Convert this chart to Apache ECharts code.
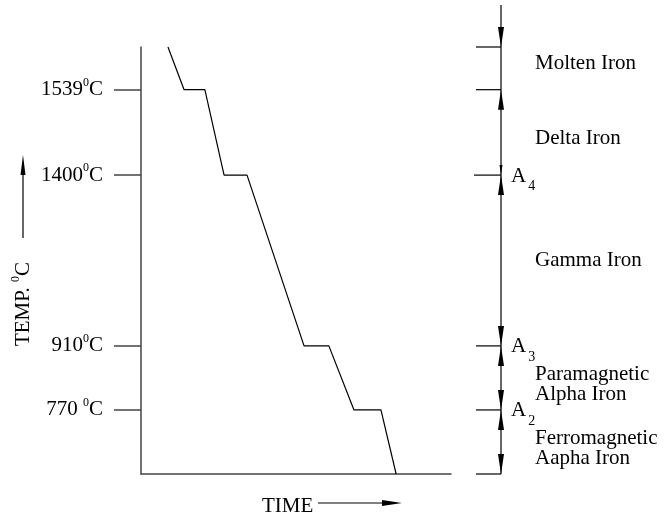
<!DOCTYPE html>
<html>
<head>
<meta charset="utf-8">
<script src="https://cdn.jsdelivr.net/npm/echarts@6/dist/echarts.min.js"></script>
<style>html,body{margin:0;padding:0;background:#fff}#c{width:666px;height:518px}</style>
</head>
<body>
<div id="c"></div>
<script>
// Cooling curve (schematic height levels; 0 = bottom of axis, 20 = top)
const timeVals  = [8.7, 13.9, 20.6, 26.8, 34.2, 52.6, 60.6, 68.7, 77.4, 82.3];
const levelVals = [20, 18, 18, 14, 14, 6, 6, 3, 3, 0];
// temperature tick labels on the schematic axis
const tickLevels = [3, 6, 14, 18];
const tickTemps  = ['770 ', '910', '1400', '1539'];
// phase regions (bounds on the schematic axis)
const phaseBounds = [0, 3, 6, 14, 18, 20];
const phaseNames  = ['Ferromagnetic\nAapha Iron', 'Paramagnetic\nAlpha Iron', 'Gamma Iron', 'Delta Iron', 'Molten Iron'];
// critical points
const critLevels = [3, 6, 14];
const critSubs   = ['2', '3', '4'];

// layout (pixels): vertical nudge of each phase label from the middle of its band
const LABEL_NUDGE = [7, 7, 0, 6, -5];
const FONT = 'Liberation Serif';
const chart = echarts.init(document.getElementById('c'));

const curve = timeVals.map((t, i) => [t, levelVals[i]]);
const regions = phaseNames.map((n, i) => [0, phaseBounds[i], phaseBounds[i + 1]]);

function renderRegion(params, api) {
  const i = params.dataIndex;
  const lo = api.value(1), hi = api.value(2);
  const yLo = api.coord([0, lo])[1];
  const yHi = api.coord([0, hi])[1];
  const cs = params.coordSys;
  const xr = cs.x + cs.width + 50;
  const stroke = { stroke: '#000', lineWidth: 1.2 };
  const ch = [];
  ch.push({ type: 'line', shape: { x1: xr, y1: yHi, x2: xr, y2: yLo }, style: stroke });
  const tickLen = lo === 14 ? 27 : 25;
  ch.push({ type: 'line', shape: { x1: xr - tickLen, y1: yLo, x2: xr, y2: yLo }, style: stroke });
  const isTop = i === phaseNames.length - 1;
  if (isTop) {
    ch.push({ type: 'line', shape: { x1: xr - 25, y1: yHi, x2: xr, y2: yHi }, style: stroke });
    ch.push({ type: 'line', shape: { x1: xr, y1: cs.y - 42, x2: xr, y2: yHi }, style: stroke });
    ch.push({ type: 'polygon', shape: { points: [[xr, yHi], [xr - 3, yHi - 20], [xr + 3, yHi - 20]] }, style: { fill: '#000' } });
  } else {
    ch.push({ type: 'polygon', shape: { points: [[xr, yHi], [xr - 3, yHi + 20], [xr + 3, yHi + 20]] }, style: { fill: '#000' } });
    const small = (i === phaseNames.length - 2);
    const L = small ? 10 : 20, W = small ? 1.5 : 3;
    ch.push({ type: 'polygon', shape: { points: [[xr, yLo], [xr - W, yLo - L], [xr + W, yLo - L]] }, style: { fill: '#000' } });
  }
  ch.push({
    type: 'text',
    style: {
      text: phaseNames[i], x: xr + 34, y: (yHi + yLo) / 2 + LABEL_NUDGE[i],
      verticalAlign: 'middle', align: 'left',
      fontFamily: FONT, fontSize: 21, lineHeight: 20, fill: '#000'
    }
  });
  const ci = critLevels.indexOf(lo);
  if (ci >= 0) {
    ch.push({
      type: 'text',
      style: {
        text: '{a|A}{b|' + critSubs[ci] + '}', x: xr + 10, y: yLo + 1,
        verticalAlign: 'middle', align: 'left',
        rich: {
          a: { fontFamily: FONT, fontSize: 21, fill: '#000' },
          b: { fontFamily: FONT, fontSize: 14, fill: '#000', padding: [20, 0, 0, 2] }
        }
      }
    });
  }
  return { type: 'group', children: ch };
}

chart.setOption({
  animation: false,
  backgroundColor: '#fff',
  grid: { left: 141, right: 215, top: 47, bottom: 44, containLabel: false },
  xAxis: {
    type: 'value', min: 0, max: 100,
    axisLine: { show: true, lineStyle: { color: '#444', width: 1.5 } },
    axisTick: { show: false }, axisLabel: { show: false }, splitLine: { show: false }
  },
  yAxis: {
    type: 'value', min: 0, max: 20, interval: 1,
    axisLine: { show: true, lineStyle: { color: '#444', width: 1.5 } },
    axisTick: { show: true, customValues: tickLevels, length: 27, inside: false, lineStyle: { color: '#444', width: 1.5 } },
    axisLabel: {
      show: true, customValues: tickLevels, margin: 38,
      fontFamily: FONT, fontSize: 21, color: '#000',
      formatter: function (v) {
        const k = tickLevels.indexOf(v);
        return k < 0 ? '' : tickTemps[k] + '{s|0}C';
      },
      rich: { s: { fontFamily: FONT, fontSize: 12, color: '#000', padding: [0, 0, 14, 0] } }
    },
    splitLine: { show: false }
  },
  graphic: [
    {
      type: 'text', x: 23, y: 304, rotation: Math.PI / 2,
      style: {
        text: 'TEMP. {s|0}C', align: 'center', verticalAlign: 'middle',
        fontFamily: FONT, fontSize: 21, fill: '#000',
        rich: { s: { fontFamily: FONT, fontSize: 12, fill: '#000', padding: [0, 0, 14, 0] } }
      }
    },
    { type: 'line', shape: { x1: 23, y1: 238, x2: 23, y2: 170 }, style: { stroke: '#000', lineWidth: 1.2 } },
    { type: 'polygon', shape: { points: [[23, 155], [20.5, 175], [25.5, 175]] }, style: { fill: '#000' } },
    {
      type: 'text', x: 262, y: 506,
      style: { text: 'TIME', align: 'left', verticalAlign: 'middle', fontFamily: FONT, fontSize: 21, fill: '#000' }
    },
    { type: 'line', shape: { x1: 318, y1: 503, x2: 385, y2: 503 }, style: { stroke: '#000', lineWidth: 1.2 } },
    { type: 'polygon', shape: { points: [[402, 503], [382, 500], [382, 506]] }, style: { fill: '#000' } }
  ],
  series: [
    {
      type: 'line', data: curve, symbol: 'none',
      lineStyle: { color: '#000', width: 1.2 }, silent: true
    },
    {
      type: 'custom', data: regions, renderItem: renderRegion, clip: false,
      encode: { x: 0, y: [1, 2] }, silent: true
    }
  ]
});
</script>
</body>
</html>
